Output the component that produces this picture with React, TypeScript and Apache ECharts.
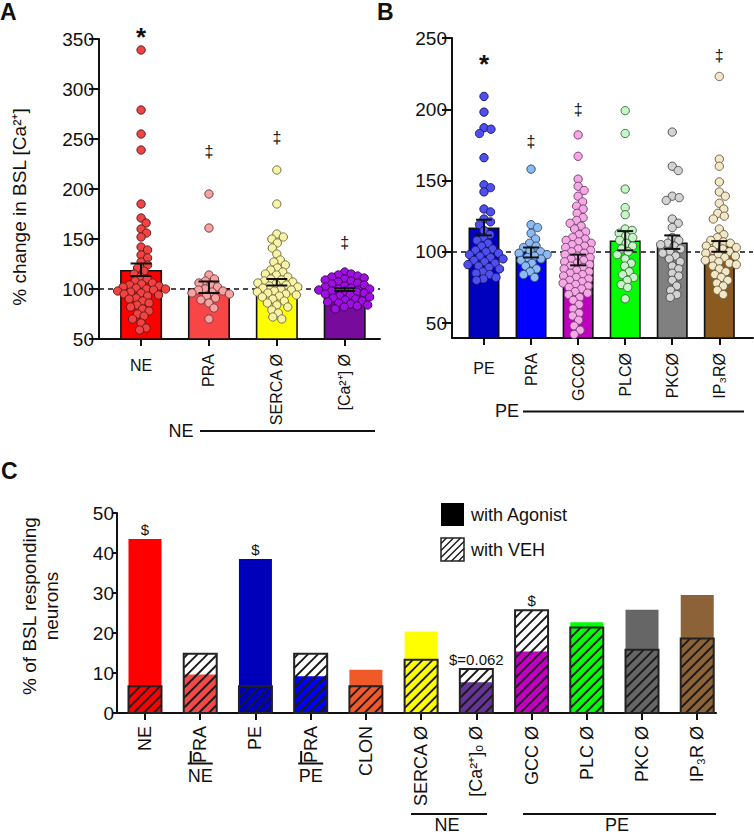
import React, { useEffect, useRef } from 'react';
import * as echarts from 'echarts';

const FONT = '"Liberation Sans", Arial, Helvetica, sans-serif';

// ---------------- Panel A ----------------
const aCategories = ['NE', 'PRA', 'SERCA Ø', '[Ca²⁺] Ø'];
const aMeans = [119, 101, 106, 99.5];
const aErrLow = [113, 96, 103.5, 98];
const aErrHigh = [125.5, 107.5, 110, 101];
const aNE = [339, 279, 255, 239, 185, 171, 166, 160, 156, 152, 142, 139, 134, 131, 127, 124, 121, 118, 115, 112, 110, 108, 106, 105, 104, 103, 102, 101, 100, 100, 99, 98, 97, 96, 95, 94, 93, 91, 90, 88, 86, 84, 82, 80, 78, 75, 73, 70, 66, 61, 59];
const aPRA = [195, 161, 114, 110, 108, 106, 104, 102, 100, 99, 98, 97, 96, 95, 93, 91, 89, 86, 81, 70];
const aSERCA = [219, 185, 155, 152, 150, 146, 141, 135, 129, 127, 124, 121, 119, 117, 115, 114, 112, 110, 109, 108, 107, 106, 105, 104, 103, 102, 101, 100, 99, 98, 97, 96, 95, 94, 93, 92, 90, 88, 86, 84, 82, 79, 76, 72, 70];
const aCa = [117, 115, 114, 113, 112, 111, 110, 109, 108, 107, 106, 105, 104, 103, 102, 101, 100, 100, 99, 99, 98, 98, 97, 96, 95, 94, 93, 92, 91, 90, 89, 88, 87, 86, 85, 84, 83, 82, 80];
const aPoints = [aNE, aPRA, aSERCA, aCa];
const aMarks = ['*', '‡', '‡', '‡'];
const aMarkY = [352, 237.5, 252, 147];

// ---------------- Panel B ----------------
const bCategories = ['PE', 'PRA', 'GCCØ', 'PLCØ', 'PKCØ', 'IP₃RØ'];
const bMeans = [117, 100, 94, 108, 106.5, 104];
const bErrLow = [111.5, 96, 90.5, 101, 102, 100];
const bErrHigh = [122.5, 103, 98, 114.5, 111.5, 107.5];
const bPE = [209, 198, 187, 186, 183, 166, 147, 145, 142, 130, 128, 123, 121, 119, 115, 112, 110, 108, 106, 104, 102, 101, 100, 99, 98, 97, 96, 95, 94, 93, 92, 91, 90, 89, 88, 86, 85, 84, 82, 81, 80];
const bPRA = [158, 119, 117, 113, 109, 106, 104, 103, 101, 100, 99, 98, 97, 96, 95, 94, 92, 90, 88, 86, 84, 82];
const bGCC = [182, 167, 151, 146, 143, 139, 135, 132, 130, 127, 124, 122, 120, 118, 116, 114, 112, 110, 109, 108, 107, 106, 105, 104, 103, 102, 101, 100, 99, 98, 97, 96, 95, 94, 93, 92, 91, 90, 89, 88, 87, 86, 85, 84, 83, 82, 81, 80, 79, 78, 77, 76, 75, 74, 72, 71, 70, 68, 66, 63, 60, 57, 55, 52, 48, 45, 42];
const bPLC = [199, 183, 144, 131, 126, 116, 115, 113, 111, 110, 108, 106, 104, 102, 100, 98, 95, 92, 90, 86, 84, 82, 80, 77, 75, 67];
const bPKC = [184, 160, 157, 139, 138, 136, 123, 120, 117, 110, 108, 106, 105, 104, 102, 100, 99, 97, 95, 93, 90, 88, 85, 83, 80, 76, 73, 70, 68];
const bIP3R = [223, 165, 160, 149, 142, 139, 134, 130, 127, 125, 123, 116, 112, 110, 108, 107, 106, 105, 104, 103, 102, 101, 100, 99, 98, 97, 96, 95, 94, 93, 92, 91, 90, 88, 86, 84, 82, 80, 78, 76, 73, 70];
const bPoints = [bPE, bPRA, bGCC, bPLC, bPKC, bIP3R];
const bMarks = ['*', '‡', '‡', '', '', '‡'];
const bMarkY = [232, 177.7, 200, 0, 0, 237.8];

// ---------------- Panel C ----------------
const cCategories = ['NE', 'PRA', 'PE', 'PRA', 'CLON', 'SERCA Ø', '[Ca²⁺]ₒ Ø', 'GCC Ø', 'PLC Ø', 'PKC Ø', 'IP₃R Ø'];
const cSubLabels = ['', 'NE', '', 'PE', '', '', '', '', '', '', ''];
const cAgonist = [43.5, 9.6, 38.5, 9.2, 10.8, 20.4, 7.7, 15.4, 22.7, 25.8, 29.5];
const cVehicle = [6.7, 14.8, 6.7, 14.8, 6.7, 13.3, 11, 25.7, 21.4, 15.8, 18.6];
const cNotes = ['$', '', '$', '', '', '', '$=0.062', '$', '', '', ''];

// ---------------- Styles ----------------
const aBarColors = ['#ff0000', '#f84545', '#ffff00', '#770b9b'];
const aDotColors = ['#f04444', '#f6a3a3', '#f9f3a6', '#a00ee4'];
const aDotBorders = ['#6a1a1a', '#7a4040', '#77744a', '#3a0850'];
const bBarColors = ['#0000bf', '#0000ff', '#bf00bf', '#00ff00', '#808080', '#8b5a1f'];
const bDotColors = ['#4f4ff0', '#8ebaf2', '#f5a8e6', '#c8f5c8', '#d3d3d3', '#f2e7c6'];
const bDotBorders = ['#1c1c70', '#34507a', '#7a4470', '#447044', '#505050', '#6e6248'];
const cColors = ['#ff0000', '#f64646', '#0000bb', '#0000ff', '#f05a28', '#ffff00', '#663399', '#bf00bf', '#00ff00', '#666666', '#8c6239'];
const INK = '#111';
const TICK_FS = 19;

function swarm(values: number[], pxY: number, pxX: number, diam: number, maxOff: number) {
  const order = values.map((_, i) => i).sort((a, b) => values[b] - values[a]);
  const placed: { o: number; y: number }[] = [];
  const offs = new Array(values.length).fill(0);
  for (const i of order) {
    const y = values[i] * pxY;
    let best = 0;
    let bestHits = Infinity;
    for (let k = 0; k < 400; k++) {
      const o = (k % 2 === 1 ? 1 : -1) * Math.ceil(k / 2) * 0.5;
      if (Math.abs(o) > maxOff) break;
      let hits = 0;
      for (const p of placed) {
        const dx = o - p.o;
        const dy = y - p.y;
        if (dx * dx + dy * dy < diam * diam) hits++;
      }
      if (hits === 0) { best = o; bestHits = 0; break; }
      if (hits < bestHits) { bestHits = hits; best = o; }
    }
    placed.push({ o: best, y });
    offs[i] = best / pxX;
  }
  return offs;
}

function hatch(x0: number, y0: number, w: number, h: number, step: number, style: any) {
  const out: any[] = [];
  const cB = x0 + y0 + h;
  const kMin = Math.floor(-h / step) - 1;
  const kMax = Math.ceil(w / step) + 1;
  for (let k = kMin; k <= kMax; k++) {
    const c = cB + k * step + step / 2;
    const xa = Math.max(x0, c - (y0 + h));
    const xb = Math.min(x0 + w, c - y0);
    if (xb - xa > 0.5) {
      out.push({ type: 'line', shape: { x1: xa, y1: c - xa, x2: xb, y2: c - xb }, style });
    }
  }
  return out;
}

function mainXAxis(gridIndex: number, min: number, max: number, n: number, labels: string[], rotIdx: number[], margin: number, fontSize: number) {
  const all = Array.from({ length: n }, (_, i) => i);
  return {
    type: 'value', gridIndex, min, max, position: 'bottom',
    axisLine: { show: true, onZero: false, lineStyle: { color: INK, width: 2 } },
    axisTick: { show: true, customValues: all, length: 7, lineStyle: { color: INK, width: 2 } },
    axisLabel: { show: true, customValues: rotIdx, rotate: 90, margin, fontSize, color: INK, fontFamily: FONT, formatter: (v: number) => labels[Math.round(v)] },
    splitLine: { show: false },
  };
}

function auxXAxis(gridIndex: number, min: number, max: number, labels: string[], idx: number[], margin: number, fontSize: number) {
  return {
    type: 'value', gridIndex, min, max, position: 'bottom',
    axisLine: { show: false, onZero: false }, axisTick: { show: false },
    axisLabel: { show: true, customValues: idx, rotate: 0, margin, fontSize, color: INK, fontFamily: FONT, formatter: (v: number) => labels[Math.round(v)] },
    splitLine: { show: false },
  };
}

function errorSeries(xAxisIndex: number, yAxisIndex: number, lo: number[], hi: number[], capHalf: number) {
  return {
    type: 'custom', xAxisIndex, yAxisIndex, z: 8, clip: false,
    encode: { x: 0, y: [1, 2] },
    data: lo.map((l, i) => [i, l, hi[i]]),
    renderItem: (params: any, api: any) => {
      const x = api.value(0);
      const pLo = api.coord([x, api.value(1)]);
      const pHi = api.coord([x, api.value(2)]);
      const st = { stroke: INK, lineWidth: 2 };
      return {
        type: 'group', children: [
          { type: 'line', shape: { x1: pLo[0], y1: pLo[1], x2: pHi[0], y2: pHi[1] }, style: st },
          { type: 'line', shape: { x1: pLo[0] - capHalf, y1: pLo[1], x2: pLo[0] + capHalf, y2: pLo[1] }, style: st },
          { type: 'line', shape: { x1: pHi[0] - capHalf, y1: pHi[1], x2: pHi[0] + capHalf, y2: pHi[1] }, style: st },
        ],
      };
    },
  };
}

function markSeries(xAxisIndex: number, yAxisIndex: number, marks: string[], ys: number[]) {
  return {
    type: 'custom', xAxisIndex, yAxisIndex, z: 9, clip: false,
    encode: { x: 0, y: 1 },
    data: marks.map((m, i) => [i, ys[i]]),
    renderItem: (params: any, api: any) => {
      const i = params.dataIndex;
      const m = marks[i];
      if (!m) return null;
      const p = api.coord([api.value(0), api.value(1)]);
      return {
        type: 'text', x: p[0], y: p[1],
        style: { text: m, fontFamily: FONT, fontSize: m === '*' ? 26 : 16, fontWeight: m === '*' ? 'bold' : 'normal', fill: INK, align: 'center', verticalAlign: 'middle' },
      };
    },
  };
}

function dotSeries(xAxisIndex: number, yAxisIndex: number, groups: number[][], pxY: number, pxX: number, diam: number, fills: string[], borders: string[], size: number) {
  const data: any[] = [];
  groups.forEach((vals, g) => {
    const offs = swarm(vals, pxY, pxX, diam, 30);
    vals.forEach((v, j) => {
      data.push({ value: [g + offs[j], v], itemStyle: { color: fills[g], borderColor: borders[g] } });
    });
  });
  return {
    type: 'scatter', xAxisIndex, yAxisIndex, z: 6, symbol: 'circle', symbolSize: size,
    itemStyle: { borderWidth: 1, opacity: 1 },
    data,
  };
}

function yAxisBase(gridIndex: number, tickLen: number, margin: number) {
  return {
    type: 'value', gridIndex,
    axisLine: { show: true, onZero: false, lineStyle: { color: INK, width: 2 } },
    axisTick: { show: true, length: tickLen, lineStyle: { color: INK, width: 2 } },
    axisLabel: { fontSize: TICK_FS, margin, color: INK, fontFamily: FONT },
    splitLine: { show: false },
  };
}

function buildOption() {
  const graphic: any[] = [];
  const letter = (t: string, x: number, y: number) => ({ type: 'text', x, y, style: { text: t, fontFamily: FONT, fontSize: 23, fontWeight: 'bold', fill: INK, align: 'left', verticalAlign: 'top' } });
  graphic.push(letter('A', 0, 0), letter('B', 377, 0), letter('C', 1, 459));
  graphic.push({ type: 'text', x: 19, y: 207, rotation: Math.PI / 2, style: { text: '% change in BSL [Ca²⁺]', fontFamily: FONT, fontSize: 19, fill: INK, align: 'center', verticalAlign: 'middle' } });
  graphic.push({ type: 'text', x: 40, y: 606, rotation: Math.PI / 2, style: { text: '% of BSL responding\nneurons', fontFamily: FONT, fontSize: 19, lineHeight: 22, fill: INK, align: 'center', verticalAlign: 'middle' } });
  const groupLabel = (t: string, tx: number, ty: number, x1: number, x2: number, ly: number) => [
    { type: 'text', x: tx, y: ty, style: { text: t, fontFamily: FONT, fontSize: 18, fill: INK, align: 'center', verticalAlign: 'middle' } },
    { type: 'line', shape: { x1, y1: ly, x2, y2: ly }, style: { stroke: INK, lineWidth: 2 } },
  ];
  graphic.push(...groupLabel('NE', 181, 431, 200, 375, 431));
  graphic.push(...groupLabel('PE', 507, 411, 523, 744, 411.5));
  graphic.push(...groupLabel('NE', 447, 825, 411, 487, 814));
  graphic.push(...groupLabel('PE', 617, 825, 523, 716, 814));
  // legend
  graphic.push({ type: 'rect', shape: { x: 441, y: 503, width: 23, height: 23 }, style: { fill: '#000' } });
  graphic.push({ type: 'text', x: 471, y: 515, style: { text: 'with Agonist', fontFamily: FONT, fontSize: 18, fill: INK, align: 'left', verticalAlign: 'middle' } });
  graphic.push(...hatch(441, 538, 23, 23, 7, { stroke: '#1a1a1a', lineWidth: 1.5 }));
  graphic.push({ type: 'rect', shape: { x: 441, y: 538, width: 23, height: 23 }, style: { fill: 'none', stroke: '#222', lineWidth: 1.5 } });
  graphic.push({ type: 'text', x: 471, y: 549.5, style: { text: 'with VEH', fontFamily: FONT, fontSize: 18, fill: INK, align: 'left', verticalAlign: 'middle' } });

  const dashLine = {
    silent: true, symbol: ['none', 'none'], z: 5,
    lineStyle: { type: [5, 4], color: INK, width: 1.6 },
    label: { show: false },
    data: [{ yAxis: 100 }],
  };

  const cAll = cCategories.map((_, i) => i);
  const yA: any = yAxisBase(0, 10, 5);
  Object.assign(yA, { min: 50, max: 350, interval: 50 });
  const yB: any = yAxisBase(1, 10, 5);
  Object.assign(yB, { min: 39.5, max: 250 });
  yB.axisTick.customValues = [50, 100, 150, 200, 250];
  yB.axisLabel.customValues = [50, 100, 150, 200, 250];
  const yC: any = yAxisBase(2, 5, 3);
  Object.assign(yC, { min: 0, max: 50, interval: 10 });

  return {
    animation: false,
    textStyle: { fontFamily: FONT },
    grid: [
      { left: 99, top: 39, width: 281, height: 300 },
      { left: 452, top: 38, width: 301, height: 300 },
      { left: 117, top: 513, width: 599, height: 200 },
    ],
    xAxis: [
      mainXAxis(0, -0.62, 3.52, 4, aCategories, [1, 2, 3], 15, 16),
      auxXAxis(0, -0.62, 3.52, aCategories, [0], 18, 16),
      mainXAxis(1, -0.68, 5.716, 6, bCategories, [1, 2, 3, 4, 5], 15, 16),
      auxXAxis(1, -0.68, 5.716, bCategories, [0], 22, 16),
      mainXAxis(2, -0.507, 10.34, 11, cCategories, cAll, 13, 18),
    ],
    yAxis: [yA, yB, yC],
    series: [
      // Panel A
      {
        type: 'bar', xAxisIndex: 0, yAxisIndex: 0, barWidth: 42, z: 2,
        itemStyle: { borderColor: INK, borderWidth: 1.6 },
        data: aMeans.map((m, i) => ({ value: [i, m], itemStyle: { color: aBarColors[i] } })),
        markLine: dashLine,
      },
      dotSeries(0, 0, aPoints, 1.0, 68, 6.8, aDotColors, aDotBorders, 8.3),
      errorSeries(0, 0, aErrLow, aErrHigh, 10.5),
      markSeries(0, 0, aMarks, aMarkY),
      // Panel B
      {
        type: 'bar', xAxisIndex: 2, yAxisIndex: 1, barWidth: 31, z: 2,
        itemStyle: { borderColor: INK, borderWidth: 1.6 },
        data: bMeans.map((m, i) => ({ value: [i, m], itemStyle: { color: bBarColors[i] } })),
        markLine: dashLine,
      },
      dotSeries(2, 1, bPoints, 1.4246, 47.06, 7.0, bDotColors, bDotBorders, 8.3),
      errorSeries(2, 1, bErrLow, bErrHigh, 8),
      markSeries(2, 1, bMarks, bMarkY),
      // Panel C
      {
        type: 'bar', xAxisIndex: 4, yAxisIndex: 2, barWidth: 33, z: 2,
        data: cAgonist.map((v, i) => ({ value: [i, v], itemStyle: { color: cColors[i] } })),
      },
      {
        type: 'custom', xAxisIndex: 4, yAxisIndex: 2, z: 4, clip: false,
        encode: { x: 0, y: 1 },
        data: cVehicle.map((v, i) => [i, v]),
        renderItem: (params: any, api: any) => {
          const x = api.value(0);
          const top = api.coord([x, api.value(1)]);
          const bot = api.coord([x, 0]);
          const w = 33;
          const x0 = top[0] - w / 2;
          const y0 = top[1];
          const h = bot[1] - top[1];
          return {
            type: 'group',
            children: [
              ...hatch(x0, y0, w, h, 10, { stroke: '#1a1a1a', lineWidth: 1.8 }),
              { type: 'rect', shape: { x: x0, y: y0, width: w, height: h }, style: { fill: 'none', stroke: '#222', lineWidth: 2 } },
            ],
          };
        },
      },
      {
        type: 'custom', xAxisIndex: 4, yAxisIndex: 2, z: 9, clip: false,
        encode: { x: 0, y: 1 },
        data: cNotes.map((_, i) => [i, Math.max(cAgonist[i], cVehicle[i])]),
        renderItem: (params: any, api: any) => {
          const t = cNotes[params.dataIndex];
          if (!t) return null;
          const p = api.coord([api.value(0), api.value(1)]);
          return { type: 'text', x: p[0], y: p[1] - 10, style: { text: t, fontFamily: FONT, fontSize: 15, fill: INK, align: 'center', verticalAlign: 'middle' } };
        },
      },
      {
        type: 'custom', xAxisIndex: 4, yAxisIndex: 2, z: 9, clip: false,
        encode: { x: 0, y: 1 },
        data: cSubLabels.map((_, i) => [i, 0]),
        renderItem: (params: any, api: any) => {
          const t = cSubLabels[params.dataIndex];
          if (!t) return null;
          const p = api.coord([api.value(0), 0]);
          const st = { stroke: INK, lineWidth: 2 };
          return {
            type: 'group', children: [
              { type: 'line', shape: { x1: p[0] - 12.5, y1: p[1] + 50.5, x2: p[0] + 12.5, y2: p[1] + 50.5 }, style: st },
              { type: 'line', shape: { x1: p[0] - 9.5, y1: p[1] + 38, x2: p[0] - 9.5, y2: p[1] + 50.5 }, style: st },
              { type: 'text', x: p[0], y: p[1] + 62.5, style: { text: t, fontFamily: FONT, fontSize: 18, fill: INK, align: 'center', verticalAlign: 'middle' } },
            ],
          };
        },
      },
    ],
    graphic: { elements: graphic },
  };
}

export default function App() {
  const ref = useRef<HTMLDivElement>(null);
  useEffect(() => {
    if (!ref.current) return;
    const chart = echarts.init(ref.current, null, { renderer: 'svg' });
    chart.setOption(buildOption() as any);
    return () => chart.dispose();
  }, []);
  return (
    <div
      ref={ref}
      style={{ position: 'absolute', left: 0, top: 0, width: 754, height: 836, background: '#fff' }}
    />
  );
}
